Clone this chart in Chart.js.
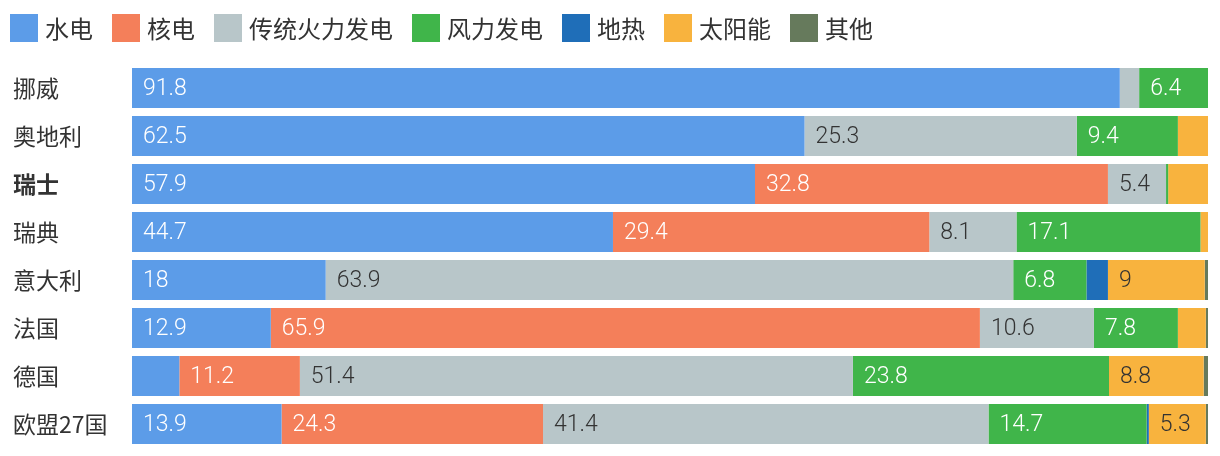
<!DOCTYPE html>
<html>
<head>
<meta charset="utf-8">
<script src="https://cdn.jsdelivr.net/npm/chart.js@4"></script>
<style>
  body { margin: 0; background: #fff; }
  #wrap { position: relative; width: 1220px; height: 456px; }
  #chart { position: absolute; left: 0; top: 0; }
  #legend {
    position: absolute; left: 10px; top: 14px;
    display: flex; align-items: center; line-height: 28px;
    font-family: "Noto Sans CJK SC", sans-serif; font-size: 24px; color: #333;
  }
  .item { display: flex; align-items: center; margin-right: 19px; height: 28px; }
  .box { width: 28px; height: 28px; margin-right: 7px; }
</style>
</head>
<body>
<div id="wrap">
  <canvas id="chart" width="1220" height="456"></canvas>
  <div id="legend"></div>
</div>
<script>
const countries = ["挪威", "奥地利", "瑞士", "瑞典", "意大利", "法国", "德国", "欧盟27国"];

const seriesNames = ["水电", "核电", "传统火力发电", "风力发电", "地热", "太阳能", "其他"];
const seriesColors = ["#5c9ce8", "#f47f5a", "#b8c6c9", "#40b54a", "#1f6eb8", "#f8b33e", "#667a5c"];
const labelColors = ["#fff", "#fff", "#333", "#fff", "#fff", "#333", "#fff"];

const hydro      = [91.8, 62.5, 57.9, 44.7, 18,   12.9, 4.4,  13.9];
const nuclear    = [0,    0,    32.8, 29.4, 0,    65.9, 11.2, 24.3];
const fossil     = [1.8,  25.3, 5.4,  8.1,  63.9, 10.6, 51.4, 41.4];
const wind       = [6.4,  9.4,  0.2,  17.1, 6.8,  7.8,  23.8, 14.7];
const geothermal = [0,    0,    0,    0,    2.0,  0,    0,    0.2];
const solar      = [0,    2.8,  3.7,  0.7,  9,    2.6,  8.8,  5.3];
const other      = [0,    0,    0,    0,    0.3,  0.2,  0.4,  0.2];

const seriesValues = [hydro, nuclear, fossil, wind, geothermal, solar, other];

// legend in html
const legendEl = document.getElementById("legend");
seriesNames.forEach((name, i) => {
  const item = document.createElement("div");
  item.className = "item";
  item.innerHTML = '<div class="box" style="background:' + seriesColors[i] + '"></div><span>' + name + "</span>";
  legendEl.appendChild(item);
});

// draw value labels inside bars
const barLabels = {
  id: "barLabels",
  afterDatasetsDraw(chart) {
    const ctx = chart.ctx;
    ctx.save();
    ctx.font = "300 23px Roboto, sans-serif";
    ctx.textBaseline = "middle";
    ctx.textAlign = "left";
    chart.data.datasets.forEach((ds, di) => {
      const meta = chart.getDatasetMeta(di);
      meta.data.forEach((bar, i) => {
        const v = ds.data[i];
        if (v < 5) return;
        const p = bar.getProps(["base", "y"], true);
        ctx.fillStyle = labelColors[di];
        ctx.fillText(String(v), p.base + 11, p.y + 1);
      });
    });
    ctx.restore();
  },
};

new Chart(document.getElementById("chart"), {
  type: "bar",
  data: {
    labels: countries,
    datasets: seriesNames.map((name, i) => ({
      label: name,
      data: seriesValues[i],
      backgroundColor: seriesColors[i],
      borderWidth: 0,
      barPercentage: 40 / 48,
      categoryPercentage: 1,
    })),
  },
  options: {
    indexAxis: "y",
    responsive: false,
    animation: false,
    devicePixelRatio: 1,
    layout: { padding: { top: 64, bottom: 8, left: 13, right: 12 } },
    plugins: { legend: { display: false }, tooltip: { enabled: false } },
    scales: {
      x: { stacked: true, min: 0, max: 100, display: false },
      y: {
        stacked: true,
        grid: { display: false },
        border: { display: false },
        afterFit(scale) {
          scale.width = 119;
          scale.paddingTop = 0;
          scale.paddingBottom = 0;
        },
        ticks: {
          crossAlign: "far",
          padding: 0,
          color: "#333",
          font: (c) => ({
            family: "'Noto Sans CJK SC', sans-serif",
            size: 23,
            weight: c.index === 2 ? "bold" : "normal",
          }),
        },
      },
    },
  },
  plugins: [barLabels],
});
</script>
</body>
</html>
